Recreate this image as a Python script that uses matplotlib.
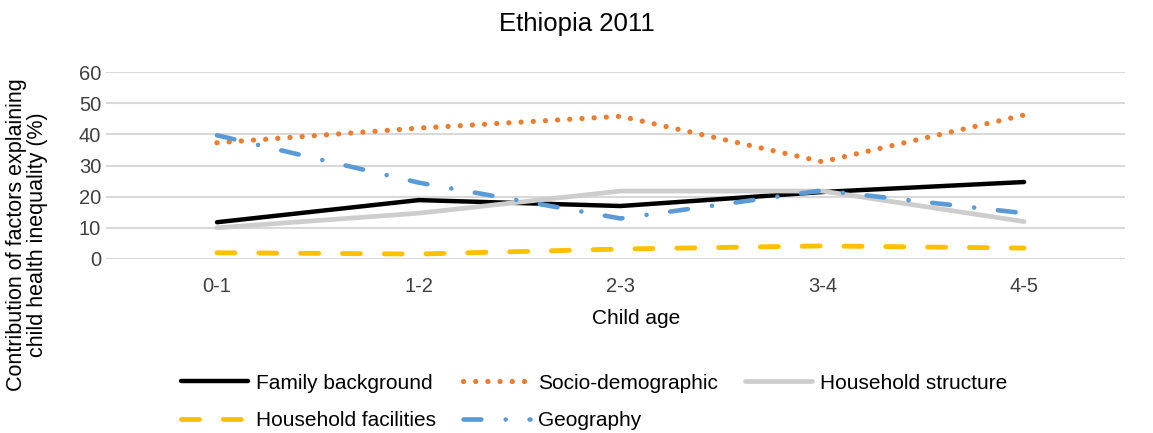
import matplotlib.pyplot as plt

plt.rcParams['font.family'] = ['Liberation Sans', 'DejaVu Sans']

ages = ['0-1', '1-2', '2-3', '3-4', '4-5']
family = [11.8, 18.9, 17.0, 21.5, 24.7]
socio = [37.3, 42.0, 45.8, 31.2, 46.2]
structure = [10.0, 14.7, 21.8, 21.8, 12.0]
facilities = [2.0, 1.6, 3.2, 4.2, 3.5]
geography = [39.7, 24.5, 13.0, 22.0, 14.7]

fig = plt.figure(figsize=(11.53, 4.33), dpi=100)
ax = fig.add_axes([106/1153, 1-259/433, (1125-106)/1153, (259-72)/433])

x = range(len(ages))
l1, = ax.plot(x, family, color='black', lw=3.2, solid_capstyle='round', label='Family background')
l2, = ax.plot(x, socio, color='#ED7D31', lw=3.8, linestyle=(0, (0.01, 2.3)), dash_capstyle='round',
              label='Socio-demographic')
l3, = ax.plot(x, structure, color='#CDCDCD', lw=3.4, solid_capstyle='round', label='Household structure')
l4, = ax.plot(x, facilities, color='#FFC000', lw=3.5, linestyle=(0, (3.7, 4.9)), dash_capstyle='round',
              label='Household facilities')
l5, = ax.plot(x, geography, color='#5B9BD5', lw=3.3, linestyle=(0, (3.9, 5.3, 0.01, 5.2)),
              dash_capstyle='round', label='Geography')

ax.set_xlim(-0.55, 4.5)
ax.set_ylim(0, 60)
ax.set_yticks(range(0, 61, 10))
ax.set_xticks(list(x))
ax.set_xticklabels(ages)
ax.tick_params(length=0, labelsize=14.5, colors='#404040')
ax.tick_params(axis='x', pad=13)
ax.grid(axis='y', color='#D9D9D9', lw=1.5)
ax.set_axisbelow(True)
for s in ax.spines.values():
    s.set_visible(False)

fig.text(0.5, 1-24/433, 'Ethiopia 2011', ha='center', va='center', fontsize=18.5)
fig.text(636/1153, 1-318/433, 'Child age', ha='center', va='center', fontsize=15)
fig.text(27/1153, 1-235/433, 'Contribution of factors explaining\nchild health inequality (%)',
         rotation=90, ha='center', va='center', fontsize=15.5, linespacing=1.0)

# column-major fill: reorder so rows read F, S, HS / HF, G
handles = [l1, l4, l2, l5, l3]
fig.legend(handles, [h.get_label() for h in handles], loc='upper center',
           bbox_to_anchor=(594/1153, 1-355/433), ncol=3, frameon=False,
           fontsize=15, handlelength=3.2, columnspacing=1.3, labelspacing=0.9, handletextpad=0.4)

plt.savefig('out.png', dpi=100)
